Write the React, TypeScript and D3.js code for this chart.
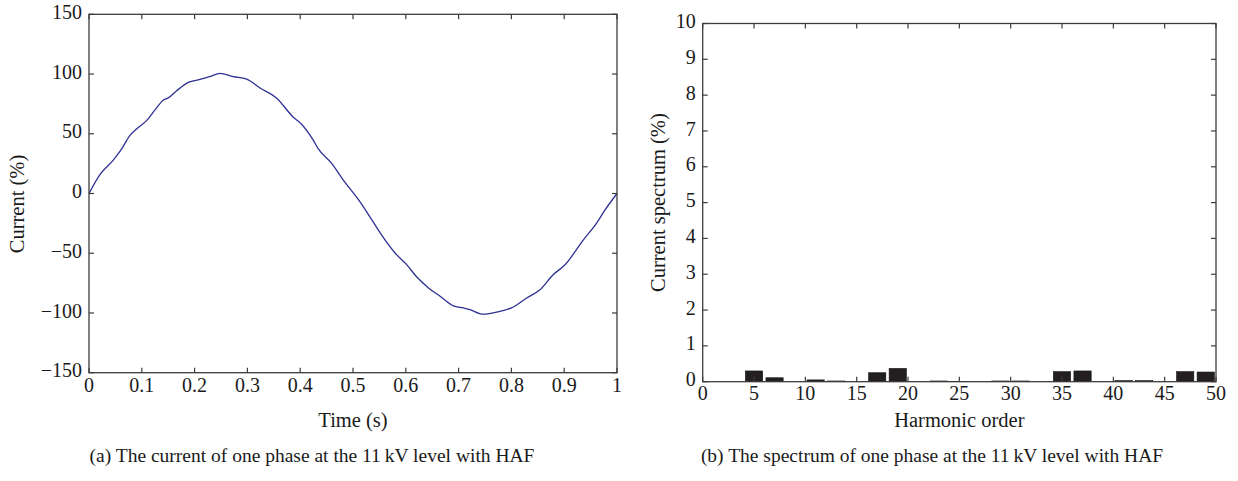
import React, { useEffect, useRef } from 'react';
import * as d3 from 'd3';

// (a) current waveform
const timeS = [0, 0.021, 0.046, 0.06, 0.0777, 0.09, 0.109, 0.125, 0.141, 0.15, 0.166, 0.188, 0.21, 0.23, 0.248, 0.273, 0.2986, 0.324, 0.355, 0.387, 0.403, 0.425, 0.434, 0.46, 0.482, 0.51, 0.532, 0.554, 0.58, 0.602, 0.62, 0.643, 0.665, 0.69, 0.709, 0.72, 0.7466, 0.778, 0.8, 0.829, 0.854, 0.879, 0.9015, 0.936, 0.961, 0.977, 1.0];
const currentPct = [0, 16, 28, 36, 48.6, 54, 61, 70, 78.3, 80, 86, 93, 95.5, 98, 100.5, 97.8, 95.8, 88.3, 80, 63.8, 57.8, 44.4, 37.5, 25, 11, -5, -19.5, -34.7, -50, -59.7, -69.5, -79, -86, -94, -95.8, -97, -101, -98.6, -95.8, -87.5, -80.6, -68, -59.7, -39, -25, -14, 0];
const timeTicks = [0, 0.1, 0.2, 0.3, 0.4, 0.5, 0.6, 0.7, 0.8, 0.9, 1];
const currentTicks = [-150, -100, -50, 0, 50, 100, 150];

// (b) spectrum
const harmonicOrders = [5, 7, 11, 13, 17, 19, 23, 25, 29, 31, 35, 37, 41, 43, 47, 49];
const spectrumPct = [0.30, 0.11, 0.05, 0.02, 0.25, 0.37, 0.02, 0.01, 0.02, 0.02, 0.28, 0.30, 0.03, 0.03, 0.28, 0.27];
const orderTicks = [0, 5, 10, 15, 20, 25, 30, 35, 40, 45, 50];
const spectrumTicks = [0, 1, 2, 3, 4, 5, 6, 7, 8, 9, 10];

const captionA = '(a)  The current of one phase at the 11\u2009kV level with HAF';
const captionB = '(b)  The spectrum of one phase at the 11\u2009kV level with HAF';

const FONT = '"Liberation Serif", "Times New Roman", serif';
const AXIS = '#3c3c3c';
const INK = '#1a1a1a';

function drawFrame(g: any, x: any, y: any, xt: number[], yt: number[], xf: (v: number) => string, yf: (v: number) => string, fs: number, xLabelDy: number) {
  const [x0, x1] = x.range();
  const [y0, y1] = y.range();
  const tl = 5;
  xt.forEach((v) => {
    const px = x(v);
    g.append('line').attr('x1', px).attr('x2', px).attr('y1', y0).attr('y2', y0 - tl).attr('stroke', AXIS).attr('stroke-width', 1.2);
    g.append('line').attr('x1', px).attr('x2', px).attr('y1', y1).attr('y2', y1 + tl).attr('stroke', AXIS).attr('stroke-width', 1.2);
    g.append('text').attr('x', px).attr('y', y0 + xLabelDy).attr('text-anchor', 'middle').attr('dominant-baseline', 'middle')
      .attr('font-family', FONT).attr('font-size', fs).attr('fill', INK).text(xf(v));
  });
  yt.forEach((v) => {
    const py = y(v);
    g.append('line').attr('x1', x0).attr('x2', x0 + tl).attr('y1', py).attr('y2', py).attr('stroke', AXIS).attr('stroke-width', 1.2);
    g.append('line').attr('x1', x1).attr('x2', x1 - tl).attr('y1', py).attr('y2', py).attr('stroke', AXIS).attr('stroke-width', 1.2);
    g.append('text').attr('x', x0 - 7).attr('y', py).attr('text-anchor', 'end').attr('dominant-baseline', 'middle')
      .attr('font-family', FONT).attr('font-size', fs).attr('fill', INK).text(yf(v));
  });
  g.append('rect').attr('x', x0).attr('y', y1).attr('width', x1 - x0).attr('height', y0 - y1)
    .attr('fill', 'none').attr('stroke', AXIS).attr('stroke-width', 1.3);
}

export default function App() {
  const ref = useRef<SVGSVGElement>(null);
  useEffect(() => {
    const svg = d3.select(ref.current);
    svg.selectAll('*').remove();
    const fs = 20;
    const ls = 20.5;
    const cs = 19.5;

    // ---- panel (a)
    const xa = d3.scaleLinear().domain([0, 1]).range([89, 617]);
    const ya = d3.scaleLinear().domain([-150, 150]).range([372.7, 14.3]);
    const ga = svg.append('g');
    const line = d3.line<number>().x((_, i) => xa(timeS[i])).y((d) => ya(d)).curve(d3.curveMonotoneX);
    ga.append('path').attr('d', line(currentPct)).attr('fill', 'none').attr('stroke', '#2e3192').attr('stroke-width', 1.3);
    drawFrame(ga, xa, ya, timeTicks, currentTicks, (v) => String(v), (v) => (v < 0 ? '\u2212' + Math.abs(v) : String(v)), fs, 15);
    ga.append('text').attr('x', (89 + 617) / 2).attr('y', 422).attr('text-anchor', 'middle').attr('dominant-baseline', 'middle')
      .attr('font-family', FONT).attr('font-size', ls).attr('fill', INK).text('Time (s)');
    ga.append('text').attr('transform', `translate(19.5,204) rotate(-90)`).attr('text-anchor', 'middle').attr('dominant-baseline', 'middle')
      .attr('font-family', FONT).attr('font-size', ls).attr('fill', INK).text('Current (%)');
    ga.append('text').attr('x', 312).attr('y', 458).attr('text-anchor', 'middle').attr('dominant-baseline', 'middle')
      .attr('font-family', FONT).attr('font-size', cs).attr('fill', INK).text(captionA);

    // ---- panel (b)
    const xb = d3.scaleLinear().domain([0, 50]).range([702.7, 1216]);
    const yb = d3.scaleLinear().domain([0, 10]).range([381.7, 23.5]);
    const gb = svg.append('g');
    const bw = xb(1.68) - xb(0);
    gb.selectAll('rect.bar').data(harmonicOrders).enter().append('rect').attr('class', 'bar')
      .attr('x', (d) => xb(d) - bw / 2).attr('width', bw)
      .attr('y', (_, i) => yb(spectrumPct[i])).attr('height', (_, i) => yb(0) - yb(spectrumPct[i]))
      .attr('fill', '#231f20').attr('stroke', '#111').attr('stroke-width', 0.6);
    drawFrame(gb, xb, yb, orderTicks, spectrumTicks, (v) => String(v), (v) => String(v), fs, 14);
    gb.append('text').attr('x', (702.7 + 1216) / 2).attr('y', 422).attr('text-anchor', 'middle').attr('dominant-baseline', 'middle')
      .attr('font-family', FONT).attr('font-size', ls).attr('fill', INK).text('Harmonic order');
    gb.append('text').attr('transform', `translate(660,${(381.7 + 23.5) / 2}) rotate(-90)`).attr('text-anchor', 'middle').attr('dominant-baseline', 'middle')
      .attr('font-family', FONT).attr('font-size', ls).attr('fill', INK).text('Current spectrum (%)');
    gb.append('text').attr('x', 932).attr('y', 458).attr('text-anchor', 'middle').attr('dominant-baseline', 'middle')
      .attr('font-family', FONT).attr('font-size', cs).attr('fill', INK).text(captionB);
  }, []);
  return <svg ref={ref} width={1238} height={481} style={{ position: 'absolute', left: 0, top: 0, background: '#fff' }} />;
}
